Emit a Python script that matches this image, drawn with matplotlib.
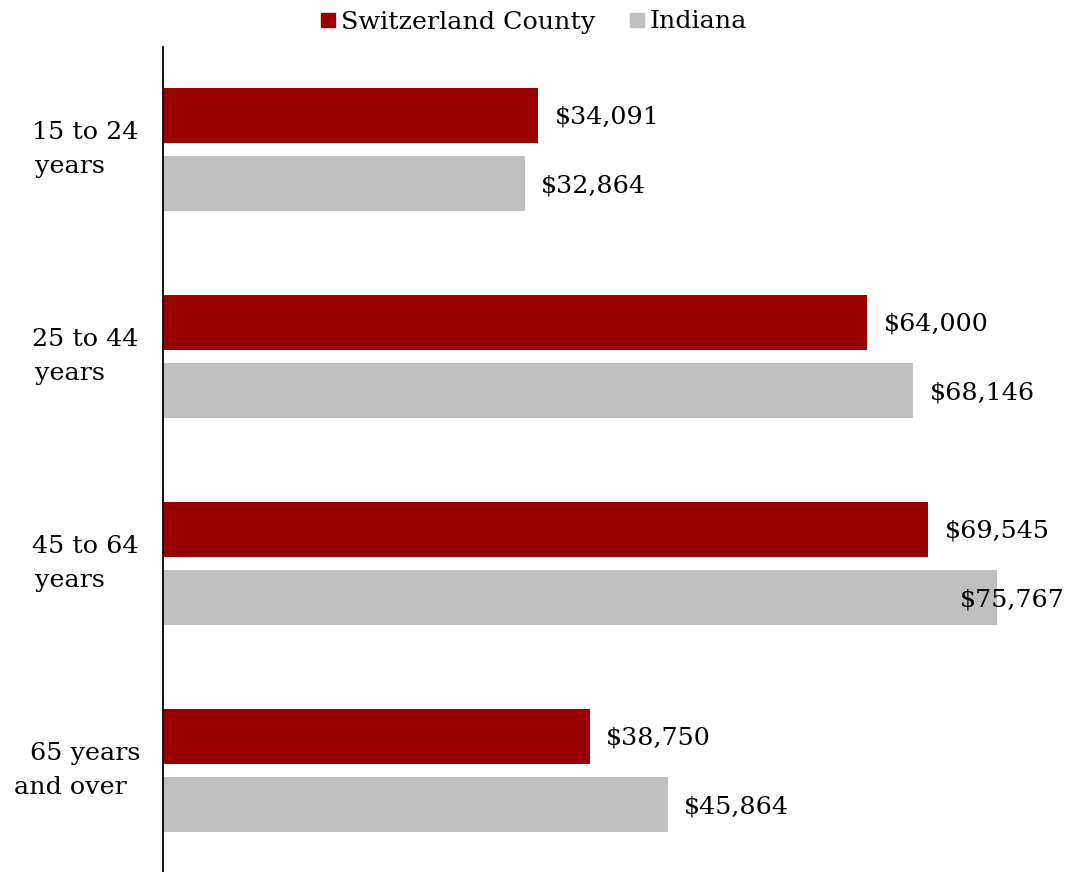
import matplotlib
matplotlib.use("Agg")
import matplotlib.pyplot as plt
from matplotlib.lines import Line2D

groups_line1 = ["15 to 24", "25 to 44", "45 to 64", "65 years"]
groups_line2 = ["years", "years", "years", "and over"]
county = [34091, 64000, 69545, 38750]
indiana = [32864, 68146, 75767, 45864]

red = "#990000"
grey = "#bfbfbf"
plt.rcParams["font.family"] = ["DejaVu Serif"]
fs = 18.3

W, H = 1068, 872
fig = plt.figure(figsize=(W / 100, H / 100), dpi=100)
ax = fig.add_axes([163 / W, 0, (W - 163) / W, 825 / H])

xmax = 82220
ax.set_xlim(0, xmax)
ax.set_ylim(3.49, -0.495)

bh = 0.265
off = 0.166
for i in range(len(county)):
    ax.barh(i - off, county[i], height=bh, color=red)
    ax.barh(i + off, indiana[i], height=bh, color=grey)
    for v, y in [(county[i], i - off), (indiana[i], i + off)]:
        lab = "${:,}".format(v)
        if v + 9000 > xmax:
            ax.text(xmax - 250, y + 0.01, lab, ha="right", va="center", fontsize=fs)
        else:
            ax.text(v + 1500, y + 0.01, lab, ha="left", va="center", fontsize=fs)
    # category labels (two lines, slightly offset like the original)
    yc = i
    ax.annotate(groups_line1[i], xy=(0, yc), xycoords=("axes fraction", "data"),
                xytext=(85 - 163, 17), textcoords="offset pixels",
                ha="center", va="center", fontsize=fs)
    ax.annotate(groups_line2[i], xy=(0, yc), xycoords=("axes fraction", "data"),
                xytext=(70 - 163, -17), textcoords="offset pixels",
                ha="center", va="center", fontsize=fs)

for s in ["top", "right", "bottom"]:
    ax.spines[s].set_visible(False)
ax.spines["left"].set_color("black")
ax.spines["left"].set_linewidth(1.3)
ax.set_xticks([])
ax.set_yticks([])

handles = [Line2D([], [], marker="s", linestyle="none", color=red, markersize=10.5),
           Line2D([], [], marker="s", linestyle="none", color=grey, markersize=10.5)]
fig.legend(handles, ["Switzerland County", "Indiana"], loc="center",
           bbox_to_anchor=(0.5, 1 - 22 / H), ncol=2, frameon=False,
           fontsize=fs, handlelength=0.55, handletextpad=0.25, columnspacing=1.35)

fig.savefig("out.png", dpi=100)
